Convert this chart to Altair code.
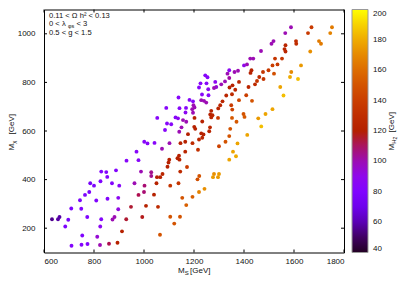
import math
import altair as alt
import pandas as pd

# ---- data ----
ms = [970, 978, 930, 829, 849, 888, 853, 826, 785, 800, 872, 901, 962, 781, 764, 809, 854, 897, 978, 744,
      709, 749, 897, 948, 632, 656, 662, 697, 773, 829, 874, 882, 929, 685, 825, 912, 753, 813, 710, 750,
      774, 824, 860, 894,
      1001, 1014, 1042, 1102, 1146, 1165, 1194, 1220, 1233, 1326, 1341, 1374, 1072, 1165, 1216, 1300, 1356, 1368, 1341, 1140,
      1134, 1142, 1101, 1098, 1094, 1172, 988, 1029, 1029, 1052, 1065, 1074, 1145, 1221, 1214, 1280, 1300, 1276, 1296, 1050,
      1105, 1138, 1002, 1000, 1040, 1242, 1220, 1194, 1153, 1169, 1008, 1056, 993, 1105, 1144, 1121, 1064,
      1245, 1254, 1226, 1250, 1220, 1257, 1285, 1289, 1280, 1309, 1324, 1334, 1341, 1362, 1376, 1341, 1354, 1380, 1342, 1365,
      1138, 1182, 1196, 1232, 1258, 1229, 1240, 1249, 1329, 1352, 1380, 1314, 1305, 1297, 1349, 1353, 1089, 1142, 1168, 1166,
      1198, 1193, 1202, 1196, 1269, 1265, 1274, 1296, 1269, 1053, 1126, 1136, 1156, 1169, 1202, 1233, 1352, 1370, 1092, 1109,
      1084, 1150, 1141, 1201, 1205, 1264, 1261, 1345, 1176, 1229, 1238,
      1588, 1670, 1752, 1565, 1656, 1745, 1518, 1510, 1608, 1609, 1700, 1708, 1566, 1562, 1566, 1468, 1665, 1425, 1437, 1524,
      1552, 1400, 1412, 1514, 1534, 1628, 1430, 1426, 1476, 1498, 1520, 1589, 1584, 1616, 1461, 1478, 1452, 1444, 1418, 1545,
      1558, 1409, 1432, 1514, 1486, 1457, 1398, 1402, 1469, 1413]
mchi = [515, 480, 478, 433, 431, 438, 411, 393, 385, 375, 385, 375, 385, 349, 337, 314, 321, 325, 337, 315,
        281, 280, 278, 288, 237, 237, 246, 235, 246, 237, 236, 246, 237, 207, 207, 187, 170, 165, 128, 132,
        135, 131, 136, 140,
        556, 549, 551, 550, 550, 556, 550, 565, 572, 556, 579, 549, 527, 515, 523, 537, 515, 496, 482, 498,
        488, 482, 482, 470, 453, 452, 433, 430, 415, 410, 410, 423, 433, 415, 401, 423, 423, 410, 410, 385,
        375, 385, 375, 349, 338, 362, 349, 329, 325, 295, 292, 288, 246, 247, 247, 219, 173,
        829, 821, 796, 796, 779, 772, 802, 781, 777, 792, 804, 836, 850, 843, 848, 818, 788, 802, 779, 770,
        738, 728, 722, 750, 747, 727, 724, 717, 746, 751, 727, 722, 706, 693, 706, 688, 695, 694, 695, 676,
        706, 690, 697, 675, 683, 668, 665, 654, 656, 654, 656, 652, 645, 638, 654, 639, 654, 638, 631, 628,
        604, 615, 597, 617, 609, 615, 599, 609, 587, 590, 586,
        1027, 1027, 1027, 1003, 1003, 1003, 970, 959, 970, 959, 970, 959, 953, 937, 927, 929, 927, 898, 898, 898,
        898, 870, 874, 870, 874, 870, 850, 839, 843, 850, 836, 843, 822, 814, 822, 814, 806, 792, 781, 781,
        746, 747, 724, 690, 670, 652, 670, 658, 619, 584]
mh2 = [85, 85, 85, 82, 82, 82, 82, 80, 75, 78, 82, 85, 100, 78, 78, 80, 82, 88, 112, 78,
       78, 80, 92, 115, 55, 58, 58, 75, 80, 82, 100, 100, 115, 78, 88, 122, 80, 95, 82, 82,
       82, 100, 112, 122,
       85, 85, 85, 100, 122, 122, 128, 125, 125, 150, 150, 178, 100, 125, 132, 142, 178, 180, 178, 122,
       122, 122, 122, 122, 122, 138, 100, 105, 105, 122, 122, 125, 128, 150, 148, 172, 175, 175, 175, 122,
       135, 135, 108, 108, 122, 172, 168, 155, 150, 155, 122, 128, 118, 150, 150, 150, 150,
       85, 85, 85, 85, 85, 88, 88, 95, 100, 100, 100, 100, 88, 100, 100, 102, 122, 125, 122, 125,
       85, 85, 85, 85, 85, 100, 100, 100, 125, 128, 145, 125, 125, 125, 138, 142, 85, 85, 85, 88,
       100, 100, 100, 100, 122, 122, 125, 138, 125, 85, 85, 88, 100, 100, 122, 122, 152, 152, 85, 85,
       85, 100, 100, 122, 122, 125, 125, 150, 120, 122, 122,
       100, 138, 165, 100, 138, 168, 100, 100, 130, 130, 165, 165, 125, 125, 125, 100, 172, 100, 100, 135,
       135, 90, 100, 140, 138, 175, 122, 122, 135, 138, 148, 170, 180, 185, 128, 135, 135, 128, 125, 178,
       185, 140, 150, 178, 178, 175, 150, 152, 185, 178]

x_ticks = [600, 800, 1000, 1200, 1400, 1600, 1800]
y_ticks = [200, 400, 600, 800, 1000]
cb_ticks = [40, 60, 80, 100, 120, 140, 160, 180, 200]

constraint_1 = "0.11 < \u03a9 h\u00b2 < 0.13"
constraint_2 = ["0 < \u03bb", "\u03c6s", "< 3"]
constraint_3 = "0.5 < g < 1.5"

df = pd.DataFrame({"ms": ms, "mchi": mchi, "mh2": mh2})


# gnuplot default palette (rgbformulae 7,5,15) as colour stops
def pal(t):
    r = math.sqrt(t)
    g = t ** 3
    b = max(0.0, math.sin(2 * math.pi * t))
    return "#%02x%02x%02x" % (round(255 * r), round(255 * g), round(255 * b))


palette = [pal(i / 32) for i in range(33)]

W, H = 300, 243
FONT = "Liberation Sans"
TXT = "#111111"

xs = alt.Scale(domain=[600, 1800], nice=False, zero=False)
ys = alt.Scale(domain=[100, 1100], nice=False, zero=False)

axis_common = dict(tickSize=0, domain=False, grid=False, labelFontSize=8, labelFont=FONT,
                   labelColor=TXT, format="d", title=None)
x_axis = alt.Axis(values=x_ticks, labelPadding=5, **axis_common)
y_axis = alt.Axis(values=y_ticks, labelPadding=9, **axis_common)

points = alt.Chart(df).mark_circle(size=15, opacity=1).encode(
    x=alt.X("ms:Q", scale=xs, axis=x_axis),
    y=alt.Y("mchi:Q", scale=ys, axis=y_axis),
    color=alt.Color(
        "mh2:Q",
        scale=alt.Scale(domain=[40, 200], range=palette),
        legend=alt.Legend(
            title=None, orient="right", offset=8, padding=0, direction="vertical",
            gradientLength=H, gradientThickness=16, values=cb_ticks,
            labelFontSize=8, labelFont=FONT, labelColor=TXT, labelOffset=5,
            labelBaseline="middle", gradientStrokeColor="#999999", gradientStrokeWidth=1,
        ),
    ),
)

xt = pd.DataFrame({"v": x_ticks})
yt = pd.DataFrame({"v": y_ticks})
bottom_ticks = alt.Chart(xt).mark_rule(color="black", strokeWidth=1).encode(
    x=alt.X("v:Q", scale=xs, axis=x_axis), y=alt.value(H), y2=alt.value(H - 3))
top_ticks = alt.Chart(xt).mark_rule(color="black", strokeWidth=1).encode(
    x=alt.X("v:Q", scale=xs, axis=x_axis), y=alt.value(0), y2=alt.value(3))
left_ticks = alt.Chart(yt).mark_rule(color="black", strokeWidth=1).encode(
    y=alt.Y("v:Q", scale=ys, axis=y_axis), x=alt.value(0), x2=alt.value(3))
right_ticks = alt.Chart(yt).mark_rule(color="black", strokeWidth=1).encode(
    y=alt.Y("v:Q", scale=ys, axis=y_axis), x=alt.value(W), x2=alt.value(W - 3))

anno = pd.DataFrame({"k": [0]})


def txt(s, x, y, size=8, angle=0):
    return alt.Chart(anno).mark_text(
        align="left", baseline="middle", fontSize=size, font=FONT, angle=angle, color=TXT
    ).encode(x=alt.value(x), y=alt.value(y), text=alt.value(s))


texts = [
    # constraints box
    txt(constraint_1, 5, 6.0, size=7.6),
    txt(constraint_2[0], 5, 14.4, size=7.6),
    txt(constraint_2[1], 24, 16.6, size=5.5),
    txt(constraint_2[2], 32.5, 14.4, size=7.6),
    txt(constraint_3, 5, 23.8, size=7.6),
    # x axis title  M_S [GeV]
    txt("M", 134, 261.5),
    txt("S", 140.8, 263.5, size=6),
    txt("[GeV]", 146, 261.5),
    # y axis title  M_chi [GeV]
    txt("M", -32, 141, angle=270),
    txt("\u03c7", -30, 134.2, size=6, angle=270),
    txt("[GeV]", -32, 125, angle=270),
    # colour bar title  M_H2 [GeV]
    txt("M", 348, 141, angle=270),
    txt("H", 350, 134.2, size=6, angle=270),
    txt("2", 351, 130, size=5, angle=270),
    txt("[GeV]", 348, 123, angle=270),
]

chart = alt.layer(
    points, bottom_ticks, top_ticks, left_ticks, right_ticks, *texts
).properties(
    width=W,
    height=H,
    padding={"left": 36, "top": 1.5, "right": 57, "bottom": 25.5},
    autosize=alt.AutoSizeParams(type="none"),
).configure_view(stroke="black", strokeWidth=1)

chart.save("out.html", embed_options={"renderer": "svg", "actions": False})
